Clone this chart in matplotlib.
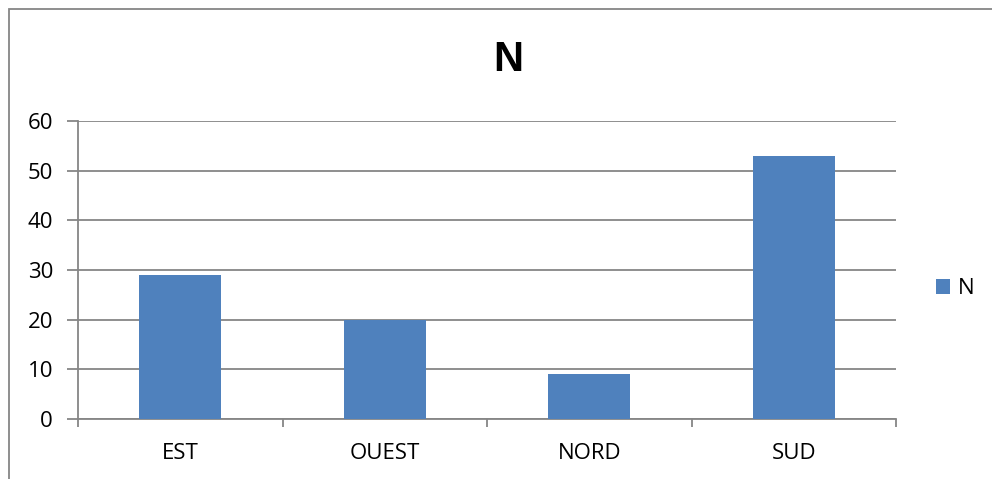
import matplotlib
matplotlib.use("Agg")
import matplotlib.pyplot as plt
from matplotlib.patches import Rectangle
import numpy as np

categories = ["EST", "OUEST", "NORD", "SUD"]
values_n = [29, 20, 9, 53]
series_name = "N"
y_ticks = [0, 10, 20, 30, 40, 50, 60]

W, H = 992, 479
BAR = "#4F81BD"
GREY = "#868686"
FS = 16

plt.rcParams["font.family"] = ["Open Sans", "DejaVu Sans"]

fig = plt.figure(figsize=(W / 100, H / 100), dpi=100)
ax = fig.add_axes([78 / W, 1 - 419 / H, (896 - 78) / W, (419 - 121) / H])

x = np.arange(len(categories))
ax.bar(x, values_n, width=0.4, color=BAR, label=series_name, zorder=3)

ax.set_xlim(-0.5, len(categories) - 0.5)
ax.set_ylim(0, 60)
ax.set_yticks(y_ticks)
ax.set_yticklabels([str(v) for v in y_ticks], fontsize=FS)
ax.grid(axis="y", color=GREY, lw=1.3, zorder=0)

# category labels between the boundary ticks
ax.set_xticks(np.arange(len(categories) + 1) - 0.5)
ax.set_xticklabels([])
ax.set_xticks(x, minor=True)
ax.set_xticklabels(categories, minor=True, fontsize=FS)
ax.tick_params(axis="x", which="minor", length=0, pad=17)
ax.tick_params(axis="x", which="major", length=6, width=1.3, color=GREY)
ax.tick_params(axis="y", length=8, width=1.3, color=GREY, pad=10)

for side in ["top", "right"]:
    ax.spines[side].set_visible(False)
for side in ["left", "bottom"]:
    ax.spines[side].set_color(GREY)
    ax.spines[side].set_linewidth(1.3)

fig.text(508 / W, 1 - 60 / H, "N", ha="center", va="center",
         fontsize=30, fontweight="bold", family="Liberation Sans")

ax.legend(loc="center left", bbox_to_anchor=(936 / W, 1 - 289 / H),
          bbox_transform=fig.transFigure, frameon=False, fontsize=FS,
          handlelength=0.65, handleheight=0.65, handletextpad=0.35,
          borderpad=0, borderaxespad=0)

# chart border, cut at right and bottom edges
fig.patches.append(Rectangle((9 / W, -0.1), 1.2, 1 - 9 / H + 0.1,
                             transform=fig.transFigure, fill=False,
                             edgecolor=GREY, lw=1.3))

fig.savefig("out.png", dpi=100)
